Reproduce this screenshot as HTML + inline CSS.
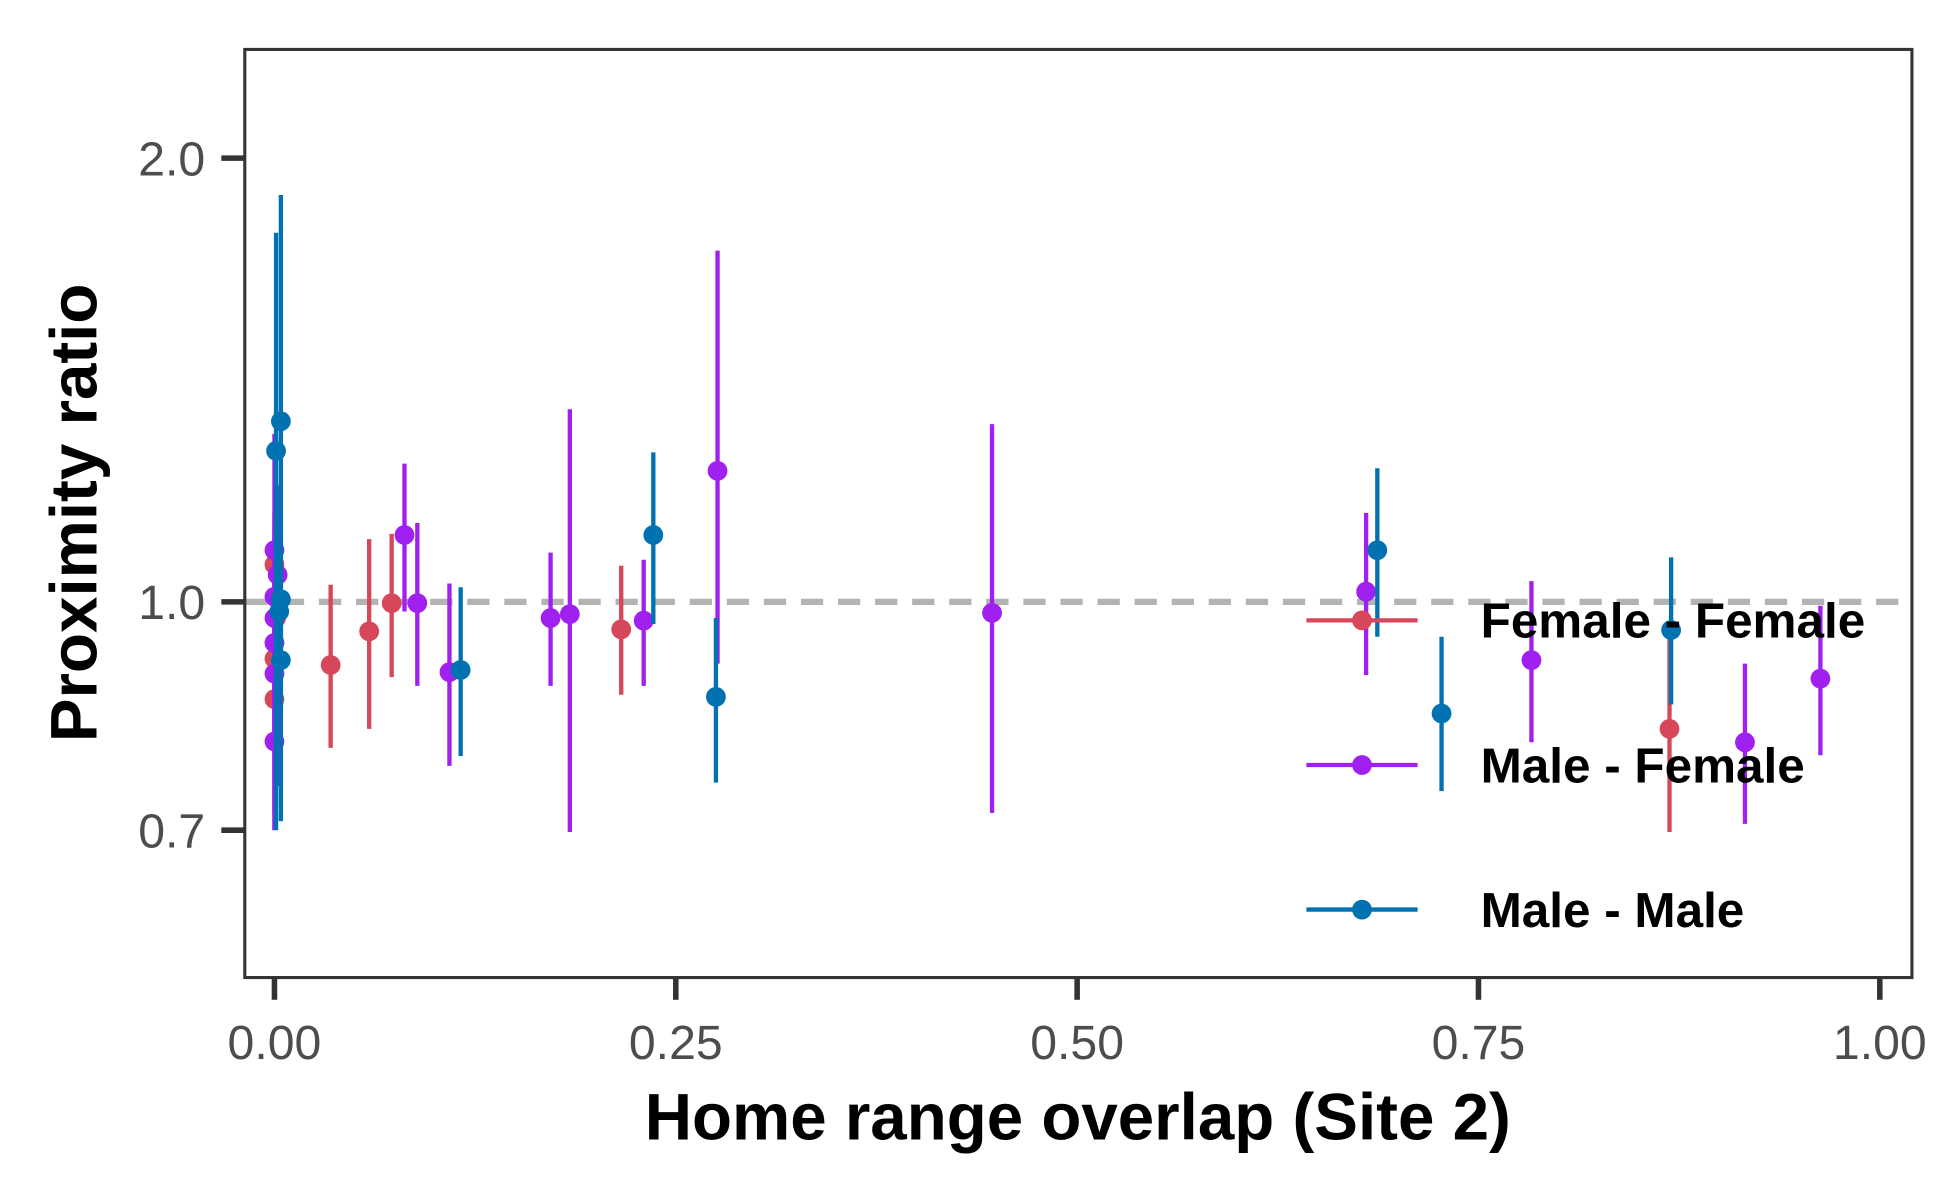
<!DOCTYPE html>
<html><head><meta charset="utf-8"><style>html,body{margin:0;padding:0;background:#fff}svg{display:block}</style></head>
<body>
<svg id="chart" width="1938" height="1200" viewBox="0 0 1568 971" xmlns="http://www.w3.org/2000/svg" font-family="Liberation Sans, Arial, sans-serif">
<rect x="0" y="0" width="1568" height="971" fill="#fff"/>
<g id="plot"></g>
</svg>
<script>
// Data: [overlap, ratio, lower, upper]
const femaleFemale = [
  [0.000,1.060,1.00,1.12],[0.000,0.915,0.88,0.96],[0.000,0.859,0.82,0.90],[0.001,0.975,0.93,1.03],
  [0.035,0.906,0.796,1.027],[0.059,0.955,0.82,1.103],[0.073,0.998,0.889,1.112],
  [0.216,0.958,0.865,1.058],[0.869,0.820,0.698,0.957]
];
const maleFemale = [
  [0.000,1.084,0.72,1.30],[0.002,1.043,0.75,1.20],[0.000,1.008,0.80,1.15],[0.000,0.975,0.85,1.10],
  [0.000,0.938,0.80,1.05],[0.000,0.894,0.70,1.02],[0.000,0.804,0.70,0.90],
  [0.081,1.110,0.985,1.241],[0.089,0.998,0.877,1.131],[0.109,0.896,0.774,1.029],
  [0.172,0.975,0.877,1.080],[0.184,0.981,0.698,1.351],[0.230,0.971,0.877,1.068],
  [0.276,1.227,0.908,1.731],[0.447,0.983,0.719,1.320],[0.680,1.016,0.892,1.149],
  [0.783,0.913,0.803,1.033],[0.916,0.803,0.707,0.908],[0.963,0.887,0.787,0.994]
];
const maleMale = [
  [0.001,1.266,0.70,1.78],[0.004,1.326,0.71,1.888],[0.004,1.004,0.90,1.10],[0.003,0.985,0.90,1.08],[0.004,0.913,0.85,0.98],
  [0.116,0.899,0.786,1.023],[0.236,1.110,0.966,1.263],[0.275,0.862,0.754,0.975],
  [0.687,1.084,0.947,1.232],[0.727,0.840,0.744,0.947],[0.870,0.957,0.852,1.072]
];
const xTicks = [0,0.25,0.5,0.75,1];
const xTickLabels = ["0.00","0.25","0.50","0.75","1.00"];
const yTicks = [0.7,1.0,2.0];
const yTickLabels = ["0.7","1.0","2.0"];
const seriesNames = ["Female - Female","Male - Female","Male - Male"];
const seriesColors = ["#d6475a","#a020f0","#0072b2"];

const NS="http://www.w3.org/2000/svg";
const P={l:198,t:40,r:1547,b:791};
const sx=v=>222+v*1299;
const sy=v=>487-Math.log(v)*518;
const g=document.getElementById('plot');
function mk(tag,attrs,parent){const e=document.createElementNS(NS,tag);for(const k in attrs)e.setAttribute(k,attrs[k]);(parent||g).appendChild(e);return e;}

let ref=mk('line',{x1:P.l,x2:P.r,y1:sy(1),y2:sy(1),stroke:'#b3b3b3','stroke-width':5,'stroke-dasharray':'18 12'});



[femaleFemale,maleFemale,maleMale].forEach((s,si)=>{
  const sg=mk('g',{});
  
  
  s.forEach(d=>{
    const l=mk('line',{x1:sx(d[0]),x2:sx(d[0]),y1:sy(d[2]),y2:sy(d[3]),stroke:seriesColors[si],'stroke-width':3.5},sg);
    
    
    const c=mk('circle',{cx:sx(d[0]),cy:sy(d[1]),r:8,fill:seriesColors[si]},sg);
    
    
  });
});

let border=mk('rect',{x:P.l,y:P.t,width:P.r-P.l,height:P.b-P.t,fill:'none',stroke:'#333','stroke-width':2.5});



yTicks.forEach((v,i)=>{
  const t=mk('line',{x1:179,x2:P.l,y1:sy(v),y2:sy(v),stroke:'#333','stroke-width':4.5});
  
  
  const tx=mk('text',{x:166,y:sy(v)+14,'text-anchor':'end','font-size':39,fill:'#4d4d4d'});
  tx.textContent=yTickLabels[i];
  
  
});
xTicks.forEach((v,i)=>{
  const t=mk('line',{x1:sx(v),x2:sx(v),y1:P.b,y2:809,stroke:'#333','stroke-width':4.5});
  
  
  const tx=mk('text',{x:sx(v),y:857,'text-anchor':'middle','font-size':39,fill:'#4d4d4d'});
  tx.textContent=xTickLabels[i];
  
  
});

let xt=mk('text',{x:872,y:922,'text-anchor':'middle','font-size':53,'font-weight':'bold',fill:'#000'});
xt.textContent='Home range overlap (Site 2)';


let yt=mk('text',{x:0,y:0,'text-anchor':'middle','font-size':53,'font-weight':'bold',fill:'#000',transform:'translate(78,415) rotate(-90)'});
yt.textContent='Proximity ratio';



seriesNames.forEach((n,i)=>{
  const y=502+i*117;
  const lg=mk('g',{});
  
  
  mk('line',{x1:1057,x2:1147,y1:y,y2:y,stroke:seriesColors[i],'stroke-width':3.5},lg);
  mk('circle',{cx:1102,cy:y,r:8,fill:seriesColors[i]},lg);
  const t=mk('text',{x:1198,y:y+14,'font-size':40,'font-weight':'bold',fill:'#000'},lg);
  t.textContent=n;
});
</script>
</body></html>
